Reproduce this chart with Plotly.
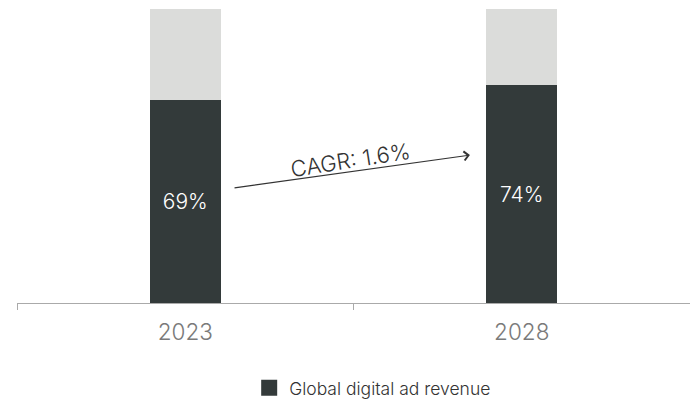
import plotly.graph_objects as go

years = ["2023", "2028"]
digital_share = [69, 74]
other_share = [31, 26]
series_name = "Global digital ad revenue"
cagr_label = "CAGR: 1.6%"

DARK = "#333a3a"
LIGHT = "#dbdcda"
FONT = "Inter"

fig = go.Figure()
fig.add_trace(go.Bar(
    x=years, y=digital_share, name=series_name,
    marker=dict(color=DARK, line=dict(width=0)),
    text=[f"{v}%" for v in digital_share], textposition="inside",
    insidetextanchor="middle",
    textfont=dict(color="white", size=21, family=FONT, weight=300),
    hoverinfo="skip", showlegend=False,
))
fig.add_trace(go.Bar(
    x=years, y=other_share, name="Other",
    marker=dict(color=LIGHT, line=dict(width=0)),
    showlegend=False, hoverinfo="skip",
))
# legend key for the dark series (square swatch)
fig.add_trace(go.Scatter(
    x=[None], y=[None], mode="markers", name=series_name,
    marker=dict(symbol="square", size=16, color=DARK),
    hoverinfo="skip", showlegend=True,
))

fig.add_annotation(
    x=0.846, y=50.3, ax=0.142, ay=39.1,
    xref="x", yref="y", axref="x", ayref="y",
    text="", showarrow=True, arrowhead=4, arrowsize=1.6, arrowwidth=1.1,
    arrowcolor="#333333",
)
fig.add_annotation(
    x=0.49, y=48.8, xref="x", yref="y", text=cagr_label, showarrow=False,
    textangle=-9, font=dict(size=22, color="#333333", family=FONT, weight=300),
)

fig.update_layout(
    width=698, height=401,
    margin=dict(l=9, r=16, t=1, b=106),
    barmode="stack", bargap=0.79,
    plot_bgcolor="white", paper_bgcolor="white",
    font=dict(family=FONT, color="#333333"),
    showlegend=True,
    legend=dict(
        orientation="h", x=0.345, xanchor="left", y=-0.289, yanchor="middle",
        font=dict(size=17.5, color="#333333", family=FONT, weight=300),
        itemsizing="trace",
    ),
)
fig.update_xaxes(
    type="category", showline=True, linecolor="#aaaaaa", linewidth=1,
    ticks="outside", tickson="boundaries", ticklen=6, tickcolor="#aaaaaa",
    tickfont=dict(size=22.5, color="#7a7a7a", family=FONT, weight=300),
    ticklabelstandoff=9, showgrid=False, zeroline=False,
    range=[-0.5, 1.5],
)
fig.update_yaxes(range=[0, 100], visible=False, showgrid=False)

fig.write_html("out.html")
